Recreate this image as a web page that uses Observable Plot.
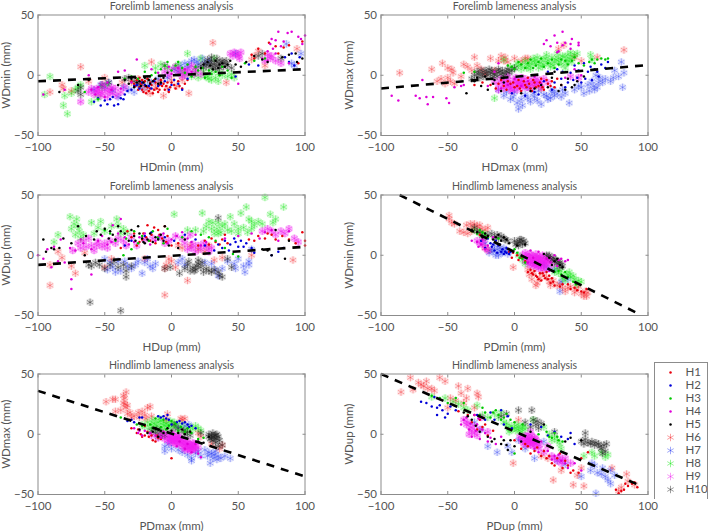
<!DOCTYPE html>
<html><head><meta charset="utf-8">
<script src="https://cdn.jsdelivr.net/npm/d3@7"></script>
<script src="https://cdn.jsdelivr.net/npm/@observablehq/plot@0.6"></script>
<style>html,body{margin:0;padding:0;background:#fff}#c{position:relative;width:709px;height:531px;overflow:hidden}#c>svg{position:absolute}g[aria-label="dot"]{filter:blur(.35px)}</style>
</head><body><div id="c"></div>
<script>
const horses=["H1","H2","H3","H4","H5","H6","H7","H8","H9","H10"];
const colors=["#e8000d","#0000d8","#00c800","#e000d8","#000000","#f5282d","#2a3cf0","#14e614","#f01ef0","#222222"];
// Panel 1: HDmin / WDmin
const p1h1=[[-30,-5],[-27,-9],[-25,-12],[-23,-7],[-21,-14],[-20,-5],[-18,-10],[-17,-13],[-15,-8],[-14,-15],[-12,-6],[-11,-11],[-10,-14],[-8,-4],[-7,-9],[-5,-12],[-3,-6],[-1,-10],[2,-8],[5,-5],[8,-11],[12,-4],[-18,-3],[-24,-2],[62,14],[65,22],[70,18],[78,24],[80,18],[84,23],[88,25],[95,10],[98,28],[73,27],[60,17],
 [-28,-7],[-26,-4],[-24,-10],[-22,-12],[-20,-9],[-19,-15],[-16,-6],[-16,-11],[-13,-12],[-13,-4],[-9,-8],[-9,-12],[-6,-7],[-4,-9],[-2,-14],[0,-6],[3,-11],[6,-9],[10,-7],[-22,-4]];
const p1h2=[[-58,-22],[-53,-25],[-48,-24],[-43,-25],[-40,-24],[-38,-19],[-35,-16],[-46,-20],[-30,-12],[-26,-8],[-22,-6],[-17,-9],[-13,-5],[-8,-7],[2,-4],[5,-7],[-2,-12],[8,-12],[12,-3],[48,-1],[58,9],[65,8],[85,15],[90,18],[96,15],[92,8],[88,11],
 [-55,-19],[-50,-21],[-44,-18],[-36,-20],[-33,-13],[-28,-9],[-24,-11],[-20,-8],[-15,-11],[-10,-9],[-5,-5],[0,-8]];
const p1h3=[[-25,-3],[-20,3],[-12,2],[-5,8],[0,4],[5,11],[-3,11],[10,2],[15,-1],[20,4],[25,-2],[30,1],[36,0],[42,4],[45,-2],[55,10],[62,12],[70,14],[-55,-20],[-65,-14],[-35,-3],[38,7],
 [-8,5],[3,8],[8,6],[12,9],[18,7],[23,6],[28,4],[33,3],[-15,0],[-30,-1]];
const p1h4=[[-96,-16],[-80,-12],[-62,0],[-40,3],[-35,4],[-26,13],[-15,5],[-2,7],[5,6],[50,-7],[68,14],[72,20],[74,26],[75,30],[78,29],[80,36],[76,22],[82,24],[84,28],[87,35],[90,36],[88,10],[95,32],[97,30],[100,33],[98,26],[72,12],[78,18],[-60,-12],[-50,-18],
 [-55,-10],[-45,-12],[-38,-11],[-30,-6],[-10,2],[0,1],[10,5],[15,3],[-48,-6],[-57,-16]];
const p1h5=[[-84,-14],[-70,-8],[-62,-4],[-40,-8],[-35,-4],[-30,-3],[-26,-6],[-23,-9],[-20,-2],[-16,-7],[-12,-3],[-8,-6],[-28,-10],[-3,2],[22,6],[27,11],[31,5],[36,9],[40,7],[44,12],[52,7],[56,11],[62,16],[68,13],[72,11],[83,15],[88,17],[93,18],[98,14],[94,11],
 [-32,-7],[-27,-2],[-24,-5],[-21,-6],[-19,-9],[-17,-4],[-14,-5],[-10,-7],[-6,-2],[24,9],[29,8],[33,12],[35,6],[38,10],[42,9],[48,9]];
const p1h6=[[-91,-14],[-68,7],[-82,-8],[-81,-11],[-62,-5],[-50,-2],[-37,-6],[-15,11],[-6,-17],[13,-15],[31,27],[41,-6],[65,20],[70,8],[94,22],[-25,-3],[-12,-10],[4,-9],[-19,-12],[-8,-5],[-30,-6],[8,-4],[62,16],
 [-16,-15],[-10,-7],[-3,-11],[0,-4],[-22,-8],[-75,-13],[60,13]];
const p1h7=[[-58,-12],[-50,-10],[-44,-13],[-36,-10],[-28,-14],[-22,-11],[-15,-6],[-3,-2],[5,3],[10,10],[15,12],[20,9],[23,14],[28,12],[48,18],[86,26],[97,18],[92,8],[90,10],[12,6],[-40,-18],
 [-53,-8],[-47,-6],[-32,-12],[-25,-8],[-18,-9],[-10,-3],[2,5],[7,8],[13,9],[17,13],[19,11],[25,10]];
const p1h8=[[-91,-1],[-95,-16],[-81,-25],[-78,-32],[-80,-17],[-72,-12],[-68,-8],[-60,-22],[-55,-19],[-48,-8],[-20,8],[-8,9],[3,7],[12,18],[22,14],[27,-1],[30,3],[32,14],[28,-3],[35,-5],[25,-1],[47,-2],[18,2],[8,4],[45,1],[38,0],[15,-1],[33,-2],
 [-75,-15],[-70,-10],[-52,-10],[-3,6],[10,1],[20,-2],[24,3],[30,-4],[36,2],[42,-1],[-12,6],[5,9]];
const p1h9=[[-68,-22],[-62,-14],[-58,-16],[-55,-15],[-52,-8],[-50,-12],[-47,-14],[-45,-10],[-41,-17],[-38,-14],[-56,-11],[-48,-18],[-35,-10],[-5,3],[0,4],[5,2],[8,-1],[10,0],[12,5],[15,8],[18,4],[22,1],[44,18],[47,19],[50,16],[52,19],[72,17],[75,16],[78,12],[82,10],[70,12],[3,7],
 [-60,-11],[-57,-13],[-54,-12],[-52,-15],[-50,-9],[-46,-12],[-44,-15],[-42,-11],[-53,-17],[-2,0],[6,5],[9,3],[13,2],[17,1],[46,16],[49,18],[51,14],[74,14]];
const p1h10=[[-70,-13],[-68,-16],[-52,-8],[-47,-6],[-32,-2],[-28,-5],[-22,-6],[-5,8],[18,6],[22,8],[25,10],[28,7],[30,12],[32,9],[33,5],[35,8],[37,11],[38,12],[40,10],[42,8],[27,13],[34,14],[65,16],[68,18],[82,14],[45,6],
 [-35,-3],[-25,-7],[-18,-3],[24,6],[26,9],[29,10],[31,7],[36,6],[39,7],[41,12],[30,15],[34,11],[-68,-10]];
// Panel 2: HDmax / WDmax
const p2h1=[[-24,-6],[-18,-8],[-14,-11],[-10,-4],[-6,-12],[-3,-7],[0,-10],[3,-4],[5,-13],[8,-8],[10,-2],[12,-11],[15,-6],[18,-9],[20,-3],[22,-12],[25,-7],[28,-5],[30,-10],[32,-3],[-30,-8],[-12,-7],[2,-9],[14,-4],[35,-8],
 [-8,-9],[-5,-5],[-1,-6],[4,-11],[7,-5],[9,-10],[11,-7],[13,-13],[16,-10],[19,-6],[21,-10],[24,-4],[27,-9]];
const p2h2=[[15,-14],[22,-5],[28,-12],[35,-3],[38,-10],[42,2],[45,8],[47,-2],[50,-6],[52,10],[55,3],[58,-4],[60,5],[63,-1],[65,9],[70,11],[68,6],[48,4],[40,-6],[32,5],[25,3],
 [30,-6],[36,3],[44,-4],[53,-3],[57,7],[62,3],[-2,-15],[8,-17],[18,-16]];
const p2h3=[[-2,7],[3,11],[8,6],[12,13],[16,8],[20,14],[25,10],[30,6],[35,13],[40,9],[45,15],[52,8],[56,11],[58,13],[60,10],[62,13],[65,14],[68,13],[70,14],[-30,3],[-38,2],
 [0,5],[5,9],[10,10],[14,6],[18,11],[22,7],[28,13],[33,9],[38,12],[43,12],[48,10],[-5,8]];
const p2h4=[[-92,-17],[-87,-21],[-74,-17],[-71,-19],[-69,-4],[-66,-18],[-65,-24],[-61,-18],[-51,-19],[-49,-23],[-45,-10],[-40,-9],[-38,-8],[22,26],[24,29],[27,24],[30,33],[32,27],[33,20],[36,36],[36,25],[38,27],[42,22],[43,30],[42,26],[48,27],[48,25],[32,19],[45,5],[38,-2],[50,0],[-15,3],[-12,10],
 [-20,-9],[-10,-11],[-5,-8],[0,-3],[5,-9],[10,-5],[15,-1],[20,-7]];
const p2h5=[[-36,-15],[-30,-5],[-25,-9],[-20,-12],[-16,-7],[-10,-13],[5,-15],[12,-13],[25,-10],[28,-2],[35,-8],[38,-12],[43,-10],[47,-5],[52,-1],[30,3],[20,-8],
 [-28,-2],[-22,-1],[-15,-4],[-8,-6],[15,-11],[33,-13],[40,-3],[45,-8]];
const p2h6=[[-86,2],[-62,5],[-54,10],[-50,6],[-47,5],[-46,2],[-48,-5],[-55,-3],[-52,-7],[-50,-2],[-38,9],[-30,15],[-35,7],[-32,4],[-18,14],[-10,16],[-7,15],[-8,12],[5,12],[8,14],[10,14],[37,25],[33,22],[50,12],[45,15],[62,15],[82,21],[-25,5],[-15,4],[-40,-1],[-22,1],
 [-58,-5],[-45,-7],[-28,8],[-12,12],[-5,11],[0,14],[15,-9],[20,-11]];
const p2h7=[[-8,-17],[-3,-20],[0,-14],[3,-28],[5,-20],[8,-16],[12,-22],[15,-18],[18,-13],[20,-24],[22,-16],[25,-20],[28,-14],[30,-17],[35,-18],[38,-15],[41,-23],[45,-12],[48,-9],[52,-15],[55,-8],[58,-5],[60,-12],[62,-10],[64,-2],[66,-6],[72,-5],[74,-2],[75,4],[80,11],[81,-10],[82,2],[10,-10],[-12,-12],
 [-6,-14],[-1,-18],[2,-23],[6,-25],[10,-19],[14,-15],[17,-21],[24,-17],[27,-19],[29,-12],[32,-15],[36,-12],[50,-10],[56,-13],[59,-9],[63,-6],[61,0],[68,-3],[78,-1]];
const p2h8=[[-15,-19],[-3,7],[2,10],[5,5],[8,12],[10,8],[12,5],[14,14],[16,10],[18,6],[20,13],[22,9],[24,17],[25,12],[27,7],[28,15],[30,11],[32,18],[33,14],[35,9],[37,15],[40,17],[40,12],[43,11],[45,17],[42,19],[47,18],[57,17],[58,13],[38,6],[-8,13],
 [0,6],[3,8],[6,9],[9,6],[11,11],[13,9],[15,12],[17,15],[19,10],[21,7],[23,14],[26,10],[29,8],[31,13],[34,11],[36,16],[39,10],[41,14],[44,15]];
const p2h9=[[-15,-5],[-12,-8],[-10,-3],[-8,-11],[-6,-6],[-4,-9],[-2,-13],[0,-4],[2,-8],[2,-12],[4,-6],[6,-10],[8,-3],[10,-7],[12,-11],[14,-4],[16,-8],[18,-6],[20,-10],[22,-3],[25,-6],[-5,-1],[5,-2],[-12,-12],[42,-1],[48,-2],
 [-9,-6],[-7,-9],[-5,-4],[-3,-7],[-1,-10],[1,-6],[3,-9],[5,-5],[7,-8],[9,-10],[11,-4],[13,-8],[15,-6],[17,-3],[19,-7],[-3,-11],[1,-2],[6,-7]];
const p2h10=[[-30,0],[-28,3],[-26,-2],[-24,1],[-22,4],[-20,0],[-18,2],[-16,-1],[-14,3],[-12,5],[-10,1],[-8,-1],[-6,3],[-4,2],[-32,-3],[-19,5],[-2,4],[0,6],
 [-27,1],[-23,-1],[-21,2],[-17,4],[-15,1],[-13,-1],[-11,3],[-9,4],[-7,1],[-5,5],[-25,4]];
// Panel 3: HDup / WDup
const p3h1=[[-38,6],[-33,20],[-30,15],[-26,8],[-22,13],[-18,25],[-15,17],[-12,10],[-10,21],[-7,14],[-5,24],[-3,16],[0,8],[5,10],[20,8],[25,12],[30,14],[36,9],[40,17],[42,10],[58,13],[65,16],[70,14],[72,18],[78,13],[83,16],[88,13],[93,10],[98,19],[100,12],[100,8],[-21,18],[-13,23],
 [-28,18],[-24,11],[-19,15],[-16,12],[-9,17],[-4,11],[28,9],[33,11],[38,13],[62,12],[75,17]];
const p3h2=[[-5,15],[2,12],[10,17],[18,13],[25,8],[32,4],[38,6],[40,12],[44,9],[47,14],[50,7],[52,12],[56,10],[60,6],[62,2],[75,0],[80,3],[84,6],[-20,16],[-15,19],
 [-30,12],[-10,14],[35,9],[43,4],[48,11],[54,7],[-35,8]];
const p3h3=[[-50,21],[-42,12],[-34,14],[-30,5],[-22,16],[-17,12],[-10,15],[-3,22],[8,15],[22,17],[33,12],[40,6],[46,1],[50,-1],[-36,0],[-25,10],
 [-46,18],[-28,20],[-14,20],[-6,10],[15,20],[28,15]];
const p3h4=[[-100,0],[-96,-3],[-93,5],[-90,-10],[-88,7],[-85,-5],[-83,13],[-80,-6],[-76,6],[-75,-20],[-75,-28],[-72,4],[-66,10],[-60,-16],[-55,12],[-48,9],[-44,25],[-40,18],[-38,30],[-35,15],[-28,11],[-20,18],[-12,12],[-6,18],[0,13],[8,19],[15,11],[22,8],[40,14],[60,18],[70,19],[80,12],[88,20],
 [-60,5],[-52,16],[-45,11],[-32,9],[-24,15],[-16,9],[-9,16],[-3,10],[4,16],[12,14],[18,17],[26,11],[50,16],[66,14],[75,21],[-68,13]];
const p3h5=[[-96,13],[-94,3],[-90,6],[-88,5],[-84,6],[-81,14],[-75,10],[-70,24],[-65,0],[-64,16],[-58,13],[-56,20],[-53,17],[-47,14],[-46,20],[-42,13],[-40,24],[-38,20],[-32,12],[-28,16],[-25,24],[-22,14],[-20,10],[-16,18],[-12,15],[-6,12],[-5,24],[-2,8],[5,6],[10,13],[68,5],[72,4],[75,0],[78,21],[85,-3],[88,12],
 [-35,18],[-30,21],[-27,12],[-24,18],[-21,11],[-18,13],[-14,11],[-10,13],[-8,17],[-50,22],[-44,17]];
const p3h6=[[-91,-8],[-91,-25],[-85,3],[-82,-2],[-75,-9],[-72,-15],[-50,-10],[-45,-3],[-5,-33],[-5,-11],[0,-5],[3,-10],[12,-21],[20,5],[28,8],[38,-2],[60,0],[91,-4],[5,8],[-20,-3],
 [-2,-3],[8,6],[14,8],[25,3],[-4,-8],[-65,2],[32,-4]];
const p3h7=[[-50,-3],[-48,-12],[-44,-10],[-38,-13],[-35,-5],[-30,-11],[-25,-5],[-22,-15],[-20,-6],[-16,-9],[-12,-7],[5,-6],[10,-8],[30,-7],[35,-17],[38,-11],[42,-5],[47,-7],[55,-14],[58,-5],[58,-8],[60,5],[-40,-5],[48,-11],
 [-46,-6],[-42,-14],[-33,-9],[-27,-8],[-18,-3],[-14,-11],[8,-3],[25,-6],[33,-12],[50,-3],[54,-9]];
const p3h8=[[-88,11],[-85,17],[-76,32],[-75,22],[-72,17],[-71,30],[-70,24],[-68,14],[-60,27],[-58,18],[-53,28],[-50,20],[-40,25],[-41,30],[-36,22],[2,34],[12,21],[18,21],[23,35],[24,20],[28,28],[30,22],[32,18],[35,27],[35,18],[38,24],[42,21],[44,32],[50,22],[52,35],[50,18],[56,40],[58,30],[57,19],[62,25],[65,28],[70,48],[74,34],[76,27],[78,30],[84,40],[60,22],
 [-73,26],[-69,20],[-66,17],[-55,23],[-45,24],[-38,18],[-33,19],[26,24],[31,27],[34,22],[37,19],[40,26],[45,20],[47,26],[54,23],[60,28],[68,26]];
const p3h9=[[-74,4],[-70,10],[-68,6],[-62,14],[-58,4],[-55,11],[-52,7],[-48,6],[-42,10],[-36,12],[-30,15],[-26,8],[-8,15],[-2,12],[8,14],[14,17],[12,5],[15,6],[18,3],[20,8],[22,5],[26,7],[28,3],[30,6],[68,20],[72,22],[78,17],[82,20],[88,22],[92,14],[95,11],[-60,8],
 [-66,12],[-64,7],[-56,8],[-50,10],[-46,12],[-40,14],[-34,8],[-20,13],[-14,14],[3,16],[10,10],[16,9],[24,10],[-5,10],[85,18],[75,20]];
const p3h10=[[-62,-8],[-60,-9],[-61,-39],[-54,-8],[-50,-11],[-46,-8],[-40,-10],[-38,-46],[-34,-13],[-34,-18],[-30,-9],[-1,-10],[-5,-11],[6,-15],[12,-8],[14,-13],[16,-10],[18,-12],[20,-7],[22,-10],[20,-4],[24,-14],[28,-13],[30,-14],[35,31],[35,-14],[36,-17],[38,-18],[45,-10],[42,-3],
 [-57,-6],[-43,-5],[-36,-8],[10,-11],[13,-5],[17,-13],[19,-9],[23,-6],[26,-11],[32,-12]];
// Panel 4: PDmin / WDmin
const p4h1=[[-4,3],[-1,2],[2,0],[5,-2],[8,-5],[12,-12],[14,-16],[15,-13],[17,-18],[19,-15],[20,-21],[22,-17],[24,-14],[25,-20],[27,-23],[28,-19],[30,-25],[34,-26],[40,-24],[45,-27],[50,-30],[54,-28],[-32,20],[-26,17],
 [10,-14],[13,-15],[16,-17],[18,-20],[21,-15],[23,-19],[26,-17],[29,-22],[36,-24],[42,-28],[47,-29],[52,-31],[-2,-2],[3,-4]];
const p4h2=[[-25,12],[-22,6],[-18,10],[-15,4],[-12,8],[-10,3],[-8,1],[-6,6],[-4,1],[-14,12],[-20,14],[-6,2],[-17,7],[-13,2],[-9,5],[-11,9],[-7,3],[-3,3],[-16,9]];
const p4h3=[[-32,20],[-28,18],[-24,19],[-20,15],[-12,14],[0,5],[4,-2],[8,-6],[30,-14],[35,-16],[40,-18],[44,-22],[46,-24],[-26,21],[-22,17],[2,2],[6,-3],[33,-13],[38,-14]];
const p4h4=[[-32,12],[-28,11],[-25,9],[-22,5],[-20,8],[-16,15],[12,4],[18,3],[24,-3],[30,0],[35,-3],[38,-5],[40,-4],[32,-9],[26,-13],[-24,13],[10,-6],[14,-2],[20,-8],[27,-6],[33,-4],[-27,7]];
const p4h5=[[-32,21],[-28,19],[-24,15],[-20,16],[-16,13],[-12,17],[-8,15],[-4,10],[2,8],[8,9],[22,1],[26,-2],[30,-5],[34,-8],[36,-10],[-22,18],[-14,15],[-10,12],[-6,13],[28,-8],[32,-3]];
const p4h6=[[-49,33],[-49,30],[-47,27],[-45,26],[-41,20],[-38,19],[-36,25],[-33,26],[-30,26],[-26,25],[-25,22],[-20,23],[-35,18],[-22,6],[-19,4],[-1,-10],[10,-12],[11,-16],[13,-20],[16,-25],[19,-19],[21,-15],[26,-22],[27,-25],[32,-25],[36,-27],[40,-27],[45,-31],[48,-26],[50,-32],[54,-34],[53,-30],
 [-31,23],[-28,24],[-22,21],[-32,20],[14,-14],[17,-23],[24,-18],[29,-21],[34,-24],[38,-30],[42,-26],[46,-28],[52,-34],[55,-31]];
const p4h7=[[-22,10],[-15,8],[-13,5],[-12,0],[-10,3],[-8,6],[-5,1],[-4,3],[-14,0],[22,-8],[30,-12],[34,-30],[35,-22],[40,-20],[-19,2],[-17,5],[-11,6],[-9,2],[-7,4],[-16,3],[25,-11]];
const p4h8=[[-30,21],[-26,18],[-23,18],[3,0],[6,-4],[8,-7],[30,-14],[33,-15],[35,-13],[37,-17],[40,-16],[42,-18],[45,-20],[48,-21],[47,-24],[50,-22],[38,-21],[31,-11],[36,-19],[41,-14],[44,-17]];
const p4h9=[[-28,12],[-24,9],[-22,6],[-20,4],[8,2],[10,-1],[12,-3],[13,0],[14,-6],[15,-8],[16,-3],[17,-1],[18,-7],[20,-10],[20,-4],[21,0],[23,-7],[24,-10],[25,-5],[26,-3],[22,-12],[18,-11],[11,-8],[8,-5],[28,-8],
 [9,-2],[10,-5],[11,1],[12,-6],[13,-4],[14,-1],[14,-9],[15,-5],[16,-7],[16,1],[17,-4],[17,-9],[18,-3],[19,-6],[19,-1],[20,-8],[21,-5],[22,-3],[22,-8],[23,-4],[24,-6],[-26,10],[-23,12],[6,0]];
const p4h10=[[-30,23],[-26,19],[-24,16],[-20,17],[-15,15],[-12,14],[-10,16],[-8,14],[-5,12],[0,12],[2,10],[3,8],[4,11],[5,13],[6,9],[8,10],[25,-1],[24,0],[27,-3],[28,-4],[30,-5],[32,-7],[33,-5],[35,-8],[34,-10],
 [-28,20],[-22,15],[-17,18],[-13,17],[-7,13],[1,9],[4,13],[7,12],[26,0],[29,-2],[31,-4],[34,-6],[36,-9]];
// Panel 5: PDmax / WDmax
const p5h1=[[-30,5],[-26,1],[-23,0],[-20,-1],[-17,-2],[-14,-5],[-12,-6],[-10,-3],[-8,-4],[0,-20],[-20,7],[-25,4],[-15,-1],[-22,-2],[-18,2],[-11,-1]];
const p5h2=[[-33,11],[-30,12],[-24,14],[-22,14],[-10,15],[-6,15],[-4,13],[0,8],[4,10],[8,9],[10,10],[12,8],[15,7],[-8,14],[-3,16],[18,5],[-28,10],[-2,12],[6,11],[13,6]];
const p5h3=[[-38,14],[-26,8],[-22,7],[-16,8],[-12,13],[-8,6],[-4,4],[0,11],[5,3],[10,2],[15,1],[20,-4],[24,-3],[-14,5],[-6,12],[-2,7],[3,9],[7,6],[12,5]];
const p5h4=[[-28,5],[-25,1],[-20,3],[-12,-1],[-6,2],[6,-6],[10,-12],[15,-15],[20,-16],[22,-19],[18,-8],[-22,-1],[-16,1],[-8,-3],[4,-10],[12,-8],[-24,3]];
const p5h5=[[-24,4],[-18,1],[-14,2],[-10,-2],[-6,1],[0,3],[5,1],[10,0],[14,2],[20,-6],[24,-7],[28,-2],[-12,5],[-8,3],[-3,5],[8,4]];
const p5h6=[[-49,27],[-44,29],[-42,29],[-38,20],[-36,26],[-36,32],[-35,30],[-34,35],[-34,22],[-33,24],[-31,18],[-33,17],[-30,14],[-25,18],[-24,14],[-22,19],[-20,16],[-18,22],[-16,23],[-15,15],[-4,12],[-3,17],[7,13],[8,12],[10,13],[22,-2],[20,1],[30,-8],[36,-12],[38,-9],[-42,19],[-28,15],[-35,25],[-19,13]];
const p5h7=[[-5,-10],[0,-12],[-5,-14],[5,-13],[8,-15],[12,-17],[15,-20],[15,-22],[18,-16],[22,-18],[25,-13],[28,-15],[30,-16],[29,-24],[31,-20],[33,-14],[35,-18],[37,-20],[40,-18],[44,-20],[5,6],[10,7],[13,8],[27,-18],[32,-17],[34,-21],[20,-14],[-2,-8]];
const p5h8=[[-22,8],[-18,10],[-15,8],[-14,12],[-12,5],[-10,10],[-9,13],[-7,6],[-6,10],[-4,9],[-3,4],[-1,11],[1,7],[3,5],[6,3],[10,4],[14,6],[18,7],[20,5],[22,3],[-8,3],[8,8],
 [-16,5],[-13,9],[-11,7],[-8,11],[-5,7],[-2,8],[0,4],[2,10],[4,8],[12,2],[16,4],[-20,6]];
const p5h9=[[-15,-1],[-10,-3],[-8,0],[-5,-4],[-4,1],[-2,-2],[0,-5],[0,-1],[1,2],[2,-7],[3,-3],[4,-6],[5,-1],[6,-9],[8,-7],[10,-9],[11,-5],[12,-12],[13,-8],[14,-14],[15,-10],[16,-7],[17,-12],[18,-9],[20,-11],[9,-11],[7,-4],
 [-3,-5],[-1,-3],[-1,-7],[1,-4],[1,-1],[2,-5],[3,-8],[4,-2],[5,-5],[6,-3],[7,-7],[9,-6],[10,-13],[11,-10],[12,-7],[13,-11],[14,-9],[15,-13],[16,-11],[17,-8],[18,-13],[-6,-1]];
const p5h10=[[-15,3],[-12,1],[-10,-2],[-8,2],[-5,-1],[2,8],[5,5],[10,0],[12,2],[14,-1],[22,1],[28,-2],[29,-4],[30,-1],[31,-5],[32,-3],[33,-1],[34,-4],[35,-2],[36,-5],[31,1],[35,-10],[38,-9],[33,-7],[30,-3],[32,-1],[34,0],[28,0],[-11,4],[-7,-1],[9,3]];
// Panel 6: PDup / WDup
const p6h1=[[-42,19],[-35,16],[-32,10],[-28,4],[-24,6],[-20,-1],[0,-5],[5,-12],[10,-10],[15,-14],[20,-18],[24,-20],[28,-24],[32,-20],[36,-28],[40,-26],[44,-30],[48,-32],[50,-20],[55,-15],[78,-49],[80,-47],[82,-46],[85,-43],[88,-41],[90,-40],[92,-44],[76,-46],
 [-30,16],[-26,12],[-22,8],[-16,3],[8,-8],[12,-16],[17,-11],[22,-14],[26,-18],[30,-26],[34,-16],[38,-22],[42,-32],[83,-41]];
const p6h2=[[-70,27],[-66,26],[-62,23],[-60,31],[-58,16],[-56,24],[-54,20],[-50,17],[-48,23],[-44,20],[-22,12],[-18,18],[-15,12],[-8,8],[-2,5],[12,8],[20,6],[30,2],[35,-2],[40,-4],[45,-8],[-10,20],[-58,22],[-52,14],[-28,16],[-5,15],[25,-1],[42,1]];
const p6h3=[[-62,32],[-56,30],[-50,26],[-44,30],[-38,26],[-26,16],[-22,18],[-18,14],[-14,20],[-10,12],[-6,17],[0,10],[6,8],[18,0],[24,2],[28,-3],[32,-2],[36,-6],[0,-16],[-24,22],[-16,18],[-12,16],[-8,14],[-3,12],[26,-2],[30,1],[33,-5]];
const p6h4=[[-40,8],[-36,14],[-34,4],[-32,-2],[-30,16],[-28,8],[-26,-4],[-24,4],[-20,-6],[-10,-2],[15,-12],[20,-6],[25,-14],[30,-18],[35,-22],[40,-28],[45,-24],[50,-30],[-14,-8],[-38,12],[-33,9],[-29,3],[-27,13],[-22,1],[-18,-3],[18,-15],[28,-21],[33,-17],[38,-24]];
const p6h5=[[-38,18],[-32,12],[-26,2],[-20,-2],[-15,-4],[-10,-8],[-6,-9],[-5,-13],[-3,-5],[0,-10],[5,-6],[12,2],[22,8],[38,-6],[42,-3],[50,-5],[-35,15],[-29,7],[-17,-6],[-8,-5]];
const p6h6=[[-85,35],[-78,47],[-76,37],[-72,43],[-68,40],[-66,44],[-62,38],[-60,36],[-56,47],[-52,44],[-48,30],[-44,28],[-42,40],[-40,34],[-36,30],[-35,38],[-28,34],[-27,31],[-50,22],[-1,-24],[3,12],[29,-38],[35,-30],[44,-42],[52,-43],[47,-34],[50,-28],[73,-28],[84,-33],[85,-39],[78,-47],[-70,41],[-65,38],[-38,26],[-30,22],[20,-18],[25,-20],[80,-44],[90,-42]];
const p6h7=[[-20,-10],[-13,-15],[-2,-15],[-5,-10],[8,-12],[15,-20],[32,-22],[38,-25],[50,-35],[57,-30],[58,-24],[61,-49],[60,-26],[62,-32],[65,-33],[70,-38],[72,-30],[72,-41],[75,-34],[-30,10],[22,-6],[-25,4],[3,-5],[66,-28],[68,-35]];
const p6h8=[[-62,31],[-52,30],[-46,27],[-35,20],[-28,24],[-24,16],[-20,14],[-15,17],[-10,18],[-8,10],[-5,6],[-3,4],[0,5],[2,8],[4,3],[6,6],[8,4],[14,12],[22,6],[26,0],[30,-2],[34,-8],[52,-18],[60,-18],[65,-15],[70,-17],[35,-12],
 [-42,25],[-38,22],[-12,14],[-6,9],[-2,7],[1,3],[3,6],[5,2],[7,7],[-4,2],[28,-5],[32,-5],[58,-15],[68,-19]];
const p6h9=[[-38,12],[-35,10],[-33,6],[-30,1],[-34,0],[-28,-1],[-26,4],[-25,14],[-20,2],[4,-2],[6,-6],[8,-1],[9,-9],[10,-4],[11,-7],[12,2],[13,-5],[14,-10],[15,-3],[16,-8],[18,-12],[22,-15],[28,-18],[32,-22],[35,-24],[38,-20],[42,-24],[25,-10],
 [5,-4],[7,-8],[8,-5],[9,-2],[10,-7],[11,-3],[12,-9],[12,-5],[13,-1],[14,-6],[15,-8],[16,-4],[17,-6],[19,-9],[30,-20],[34,-19],[36,-22],[-32,3],[-36,8],[-30,7]];
const p6h10=[[3,20],[13,20],[-6,17],[8,10],[14,12],[16,8],[18,5],[20,9],[30,2],[53,1],[50,-6],[53,-4],[55,-7],[58,-6],[60,-9],[63,-8],[65,-12],[67,-9],[69,-8],[68,-14],[66,-16],[-10,15],[12,6],[52,-8],[57,-8],[61,-7],[64,-10],[17,11]];
const panels=[
 {t:"Forelimb lameness analysis",xl:"HDmin (mm)",yl:"WDmin (mm)",c:0,r:0,fit:[[-100,-5],[100,5]],s:[p1h1,p1h2,p1h3,p1h4,p1h5,p1h6,p1h7,p1h8,p1h9,p1h10]},
 {t:"Forelimb lameness analysis",xl:"HDmax (mm)",yl:"WDmax (mm)",c:1,r:0,fit:[[-100,-11],[100,8.5]],s:[p2h1,p2h2,p2h3,p2h4,p2h5,p2h6,p2h7,p2h8,p2h9,p2h10]},
 {t:"Forelimb lameness analysis",xl:"HDup (mm)",yl:"WDup (mm)",c:0,r:1,fit:[[-100,-8],[100,7]],s:[p3h1,p3h2,p3h3,p3h4,p3h5,p3h6,p3h7,p3h8,p3h9,p3h10]},
 {t:"Hindlimb lameness analysis",xl:"PDmin (mm)",yl:"WDmin (mm)",c:1,r:1,fit:[[-86,50],[92,-48]],s:[p4h1,p4h2,p4h3,p4h4,p4h5,p4h6,p4h7,p4h8,p4h9,p4h10]},
 {t:"Hindlimb lameness analysis",xl:"PDmax (mm)",yl:"WDmax (mm)",c:0,r:2,fit:[[-100,36],[100,-35]],s:[p5h1,p5h2,p5h3,p5h4,p5h5,p5h6,p5h7,p5h8,p5h9,p5h10]},
 {t:"Hindlimb lameness analysis",xl:"PDup (mm)",yl:"WDup (mm)",c:1,r:2,fit:[[-100,50],[95,-43]],s:[p6h1,p6h2,p6h3,p6h4,p6h5,p6h6,p6h7,p6h8,p6h9,p6h10]}
];
const xTicks=[-100,-50,0,50,100], yTicks=[-50,0,50];
const lefts=[0,342.5], tops=[0,180,359];
const font='Lato,"Noto Sans",sans-serif', ink="#555555", edge="#8c8c8c";
const root=document.getElementById("c");
const haloAlpha={5:.13,6:.13,7:.16,8:.3,9:.14};
function haloMarks(pts,i){ return Plot.dot(pts,{x:"0",y:"1",r:3.8,fill:colors[i],fillOpacity:haloAlpha[i],stroke:"none"}); }
function seriesMarks(pts,i){
  if(i<5) return Plot.dot(pts,{x:"0",y:"1",r:1.25,fill:colors[i],stroke:"none"});
  return Plot.dot(pts,{x:"0",y:"1",r:3.5,symbol:"asterisk",stroke:colors[i],strokeWidth:.9,strokeOpacity:i==9?.5:i==8?.55:.4});
}
for(const p of panels){
  const order=[5,6,7,9,8,0,1,2,3,4];
  const svg=Plot.plot({
    width:340,height:175,marginLeft:37.5,marginRight:35.5,marginTop:14.5,marginBottom:40,
    style:{fontFamily:font,fontSize:"11.5px",color:ink,background:"transparent",overflow:"visible"},
    x:{domain:[-100,100]},y:{domain:[-50,50]},
    marks:[
      ...[5,6,7,9,8].map(i=>haloMarks(p.s[i],i)),
      ...order.map(i=>seriesMarks(p.s[i],i)),
      Plot.line(p.fit,{x:"0",y:"1",stroke:"#000",strokeWidth:2.6,strokeDasharray:"8 7",strokeLinecap:"butt"}),
      Plot.frame({stroke:edge,strokeWidth:1}),
      Plot.axisX({ticks:xTicks,tickSize:-3,tickPadding:10,stroke:edge,label:p.xl,labelAnchor:"center",labelArrow:"none",labelOffset:35,fontSize:11.5}),
      Plot.axisX({ticks:xTicks,anchor:"top",tickSize:-3,stroke:edge,tickFormat:()=>"",label:null}),
      Plot.axisY({ticks:yTicks,tickSize:-3,tickPadding:7,stroke:edge,label:p.yl,labelAnchor:"center",labelArrow:"none",labelOffset:36,fontSize:11.5}),
      Plot.axisY({ticks:yTicks,anchor:"right",tickSize:-3,stroke:edge,tickFormat:()=>"",label:null}),
      Plot.text([p.t],{frameAnchor:"top",lineAnchor:"middle",dy:-8,fontSize:10.5,fill:ink,text:d=>d})
    ]
  });
  svg.style.left=lefts[p.c]+"px";svg.style.top=tops[p.r]+"px";
  root.appendChild(svg);
}
// Legend
const legendData=horses.map((h,i)=>({h,i}));
const legend=Plot.plot({
  width:54,height:137,margin:0,
  style:{fontFamily:font,fontSize:"11.5px",color:ink,background:"#fff"},
  x:{domain:[0,54],axis:null},
  y:{domain:horses,axis:null,type:"point",padding:.62},
  marks:[
    Plot.dot(legendData.filter(d=>d.i<5),{x:()=>16,y:"h",r:1.25,fill:d=>colors[d.i],stroke:"none"}),
    Plot.dot(legendData.filter(d=>d.i>=5),{x:()=>16,y:"h",r:3.5,symbol:"asterisk",stroke:d=>colors[d.i],strokeWidth:.9,strokeOpacity:.5}),
    Plot.text(legendData,{x:()=>31,y:"h",text:"h",textAnchor:"start",fill:ink,fontSize:11.5}),
    Plot.frame({stroke:edge,strokeWidth:1,insetRight:1})
  ]
});
legend.style.left="654px";legend.style.top="362px";
root.appendChild(legend);
</script></body></html>
